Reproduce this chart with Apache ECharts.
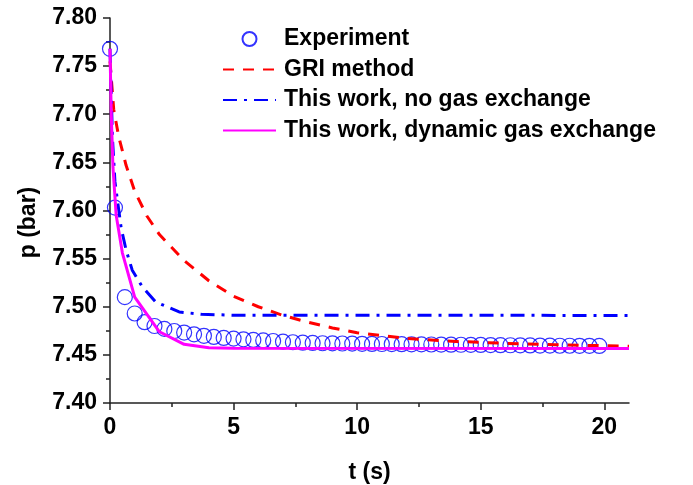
<!DOCTYPE html>
<html>
<head>
<meta charset="utf-8">
<title>p vs t</title>
<script src="https://cdn.jsdelivr.net/npm/echarts@6/dist/echarts.min.js"></script>
<style>
    html, body { margin: 0; padding: 0; background: #fff; }
    #chart { width: 693px; height: 485px; }
</style>
</head>
<body>
<div id="chart"></div>
<script>
// experiment samples
const expT = [0, 0.2, 0.6, 1.0, 1.4, 1.8, 2.2, 2.6, 3.0, 3.4, 3.8, 4.2, 4.6, 5.0, 5.4, 5.8,
    6.2, 6.6, 7.0, 7.4, 7.8, 8.2, 8.6, 9.0, 9.4, 9.8, 10.2, 10.6, 11.0, 11.4, 11.8, 12.2,
    12.6, 13.0, 13.4, 13.8, 14.2, 14.6, 15.0, 15.4, 15.8, 16.2, 16.6, 17.0, 17.4, 17.8,
    18.2, 18.6, 19.0, 19.4, 19.8];
const expP = [7.768, 7.603, 7.510, 7.493, 7.484, 7.480, 7.477, 7.4748, 7.4732, 7.4714, 7.4698,
    7.4686, 7.4676, 7.4669, 7.4662, 7.4655, 7.4650, 7.4644, 7.4637, 7.4631, 7.4627, 7.4624,
    7.4621, 7.4620, 7.4618, 7.4617, 7.4615, 7.4614, 7.4613, 7.4612, 7.4611, 7.4610, 7.4609,
    7.4608, 7.4607, 7.4606, 7.4605, 7.4604, 7.4603, 7.4602, 7.4601, 7.4600, 7.4599, 7.4598,
    7.4597, 7.4596, 7.4595, 7.4595, 7.4594, 7.4594, 7.4593];

// GRI method
const griT = [0, 0.15, 0.35, 0.65, 1, 1.5, 2, 3, 4, 5, 6, 7, 8, 9, 10, 12, 14, 16, 18, 21];
const griP = [7.755, 7.705, 7.677, 7.647, 7.620, 7.594, 7.575, 7.548, 7.527, 7.511, 7.500,
    7.491, 7.484, 7.478, 7.473, 7.467, 7.464, 7.462, 7.4605, 7.459];

// this work, no gas exchange
const noExT = [0, 0.1, 0.2, 0.45, 0.65, 0.9, 1.3, 1.85, 2.8, 3.7, 5, 21];
const noExP = [7.768, 7.675, 7.630, 7.582, 7.559, 7.538, 7.521, 7.505, 7.4946, 7.4922, 7.4912, 7.4910];

// this work, dynamic gas exchange
const dynT = [0, 0.05, 0.12, 0.25, 0.5, 1, 2, 3, 4, 5, 21];
const dynP = [7.768, 7.70, 7.645, 7.595, 7.556, 7.510, 7.474, 7.461, 7.4575, 7.457, 7.4565];

const xLabels = [0, 5, 10, 15, 20];
const xMinor = [2.5, 7.5, 12.5, 17.5];

const zip = (a, b) => a.map((v, i) => [v, b[i]]);

const font = 'Liberation Sans, Arial, sans-serif';
const axisColor = '#222';
const noDot = { opacity: 0 };

const chart = echarts.init(document.getElementById('chart'));
chart.setOption({
    animation: false,
    grid: { left: 110, right: 64, top: 18, bottom: 82, outerBoundsMode: 'none', containLabel: false },
    legend: {
        orient: 'vertical',
        left: 222,
        top: 26,
        padding: 0,
        itemWidth: 53,
        itemHeight: 14,
        itemGap: 4.5,
        selectedMode: false,
        textStyle: {
            fontFamily: font, fontSize: 23, fontWeight: 'bold', color: '#000',
            lineHeight: 26, padding: [0, 0, 0, 3]
        },
        data: [
            { name: 'Experiment' },
            { name: 'GRI method', itemStyle: noDot },
            { name: 'This work, no gas exchange', itemStyle: noDot },
            { name: 'This work, dynamic gas exchange', itemStyle: noDot }
        ]
    },
    xAxis: [{
        type: 'value',
        min: 0,
        max: 21,
        interval: 5,
        name: 't (s)',
        nameLocation: 'middle',
        nameGap: 58,
        nameTextStyle: { fontFamily: font, fontSize: 23, fontWeight: 'bold', color: '#000' },
        splitLine: { show: false },
        axisLine: { lineStyle: { color: axisColor, width: 1.5 } },
        axisTick: { length: 7, customValues: xLabels, lineStyle: { color: axisColor, width: 1.5 } },
        axisLabel: {
            customValues: xLabels,
            margin: 13,
            fontFamily: font, fontSize: 23, fontWeight: 'bold', color: '#000'
        }
    }, {
        // minor ticks only
        type: 'value',
        min: 0,
        max: 21,
        position: 'bottom',
        splitLine: { show: false },
        axisLine: { show: false },
        axisLabel: { show: false },
        axisTick: { length: 4, customValues: xMinor, lineStyle: { color: axisColor, width: 1.5 } }
    }],
    yAxis: {
        type: 'value',
        min: 7.40,
        max: 7.80,
        interval: 0.05,
        name: 'p (bar)',
        nameLocation: 'middle',
        nameGap: 70,
        nameTextStyle: {
            fontFamily: font, fontSize: 23, fontWeight: 'bold', color: '#000',
            padding: [0, 24, 0, 0]
        },
        splitLine: { show: false },
        axisLine: { show: true, lineStyle: { color: axisColor, width: 1.5 } },
        axisTick: { length: 7, lineStyle: { color: axisColor, width: 1.5 } },
        minorTick: { show: true, splitNumber: 2, length: 4, lineStyle: { color: axisColor, width: 1.5 } },
        axisLabel: {
            margin: 13,
            formatter: v => v.toFixed(2),
            fontFamily: font, fontSize: 23, fontWeight: 'bold', color: '#000'
        }
    },
    series: [{
        name: 'GRI method',
        type: 'line',
        symbol: 'none',
        data: zip(griT, griP),
        lineStyle: { color: '#ff0000', width: 3, type: [11, 9] },
        itemStyle: { color: '#ff0000' }
    }, {
        name: 'This work, no gas exchange',
        type: 'line',
        symbol: 'none',
        data: zip(noExT, noExP),
        lineStyle: { color: '#0000ff', width: 3, type: [14, 7, 3, 7] },
        itemStyle: { color: '#0000ff' }
    }, {
        name: 'This work, dynamic gas exchange',
        type: 'line',
        symbol: 'none',
        data: zip(dynT, dynP),
        lineStyle: { color: '#ff00ff', width: 3 },
        itemStyle: { color: '#ff00ff' }
    }, {
        name: 'Experiment',
        type: 'scatter',
        symbol: 'circle',
        symbolSize: 15,
        data: zip(expT, expP),
        itemStyle: { color: 'rgba(0,0,0,0)', borderColor: '#0000ff', borderWidth: 1.2 }
    }]
});
</script>
</body>
</html>
